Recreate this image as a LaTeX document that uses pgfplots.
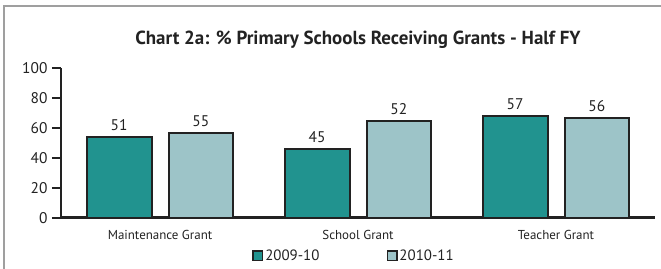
\documentclass[border=0pt]{standalone}
\usepackage{fontspec}
\setmainfont{PT Sans}
\usepackage{pgfplots}
\pgfplotsset{compat=1.18}
\definecolor{darkteal}{HTML}{21938F}
\definecolor{lightteal}{HTML}{9DC4C8}
\definecolor{edge}{HTML}{222222}
\begin{document}
\begin{tikzpicture}[x=1bp,y=1bp]
\path[use as bounding box] (-61,-50.3) rectangle (600,217.7);
\draw[gray!75, line width=2.5bp] (-57,-60) -- (-57,211.7) -- (610,211.7);
\begin{axis}[
  at={(0,0)}, anchor=south west,
  scale only axis, width=594bp, height=150bp,
  xmin=-0.5, xmax=2.5, ymin=0, ymax=100,
  axis x line*=bottom, axis y line*=left,
  axis line style={line width=2.5bp, edge, -},
  xtick=data, xticklabels={Maintenance Grant, School Grant, Teacher Grant},
  x tick style={draw=none},
  ytick={0,20,...,100},
  y tick style={line width=2bp, edge},
  major tick length=9bp, tick align=outside,
  /pgf/number format/assume math mode=true,
  xticklabel style={font=\fontsize{13}{15}\selectfont, text=edge},
  yticklabel style={font=\fontsize{15.5}{17}\selectfont, text=edge, xshift=-1bp},
  ybar=17bp, bar width=64.7bp,
  point meta=explicit symbolic,
  nodes near coords,
  nodes near coords style={font=\fontsize{15.5}{17}\selectfont, text=edge, yshift=2bp},
  title={Chart 2a: \% Primary Schools Receiving Grants - Half FY},
  title style={at={(0.5,1)}, anchor=center, yshift=21.7bp, font=\bfseries\fontsize{19}{22}\selectfont, text=edge},
  legend style={at={(0.5,0)}, anchor=center, yshift=-38.3bp, xshift=-4bp, draw=none, fill=none,
    font=\fontsize{15}{17}\selectfont, text=edge,
    /tikz/every even column/.append style={column sep=65bp}},
  legend columns=2,
  legend image code/.code={\draw[#1, line width=1.5bp] (0bp,-4.5bp) rectangle (9.5bp,5bp);},
  clip=false,
]
\addplot[fill=darkteal, draw=edge, line width=2bp] table[x=x, y=y, meta=label] {
x y label
0 54.0 51
1 45.7 45
2 67.9 57
};
\addplot[fill=lightteal, draw=edge, line width=2bp] table[x=x, y=y, meta=label] {
x y label
0 56.7 55
1 64.3 52
2 66.5 56
};
\legend{2009-10, 2010-11}
\end{axis}
\end{tikzpicture}
\end{document}
